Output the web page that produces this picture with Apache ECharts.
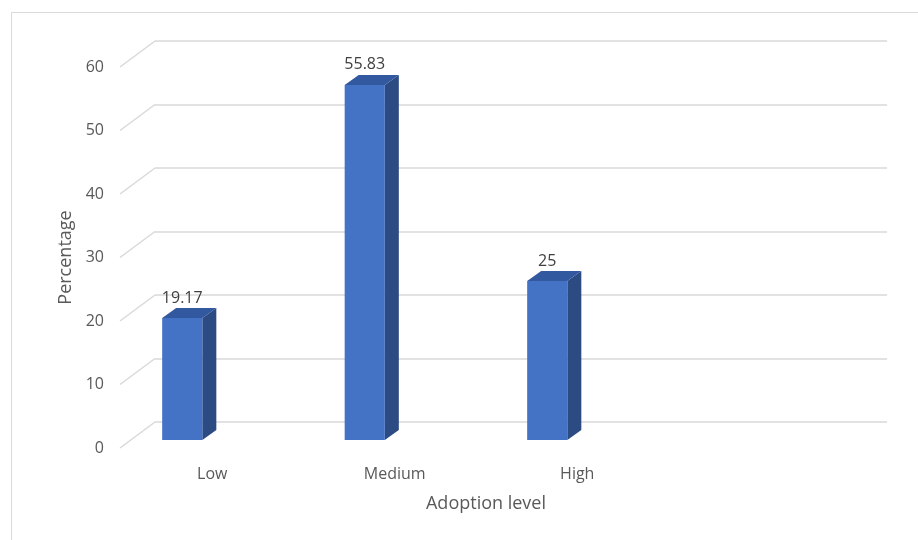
<!DOCTYPE html>
<html>
<head>
<meta charset="utf-8">
<script src="https://cdn.jsdelivr.net/npm/echarts@6/dist/echarts.min.js"></script>
<style>
html,body{margin:0;padding:0;background:#fff;}
#chart{width:918px;height:540px;}
</style>
</head>
<body>
<div id="chart"></div>
<script>
var categories = ['Low', 'Medium', 'High'];
var percentages = [19.17, 55.83, 25];
var yTicks = [0, 10, 20, 30, 40, 50, 60];
var yTitle = 'Percentage';
var xTitle = 'Adoption level';

var FONT = '"Open Sans", sans-serif';
var DX = 14, DY = 10;       // bar depth offset
var FX = 35, FY = 26;       // floor depth offset for wall lines

var chart = echarts.init(document.getElementById('chart'));
chart.setOption({
  animation: false,
  backgroundColor: '#ffffff',
  grid: [
    { left: 155, right: 31, top: 41, bottom: 118 },          // back wall
    { left: 120, right: 31, top: 67, bottom: 92 },           // y labels
    { left: 91, width: 547.5, top: 58.4, bottom: 100 },      // bars
    { left: 121, width: 547.5, top: 58.4, bottom: 100 }      // category labels
  ],
  xAxis: [
    { gridIndex: 0, type: 'value', min: 0, max: 1, show: false },
    { gridIndex: 1, type: 'value', min: 0, max: 1, show: false },
    { gridIndex: 2, type: 'category', data: categories, show: false },
    { gridIndex: 3, type: 'category', data: categories,
      axisLine: { show: false }, axisTick: { show: false },
      axisLabel: { margin: 26, fontSize: 16, color: '#595959', fontFamily: FONT } }
  ],
  yAxis: [
    { gridIndex: 0, type: 'value', min: 0, max: 60, interval: 10,
      axisLine: { show: false }, axisTick: { show: false }, axisLabel: { show: false },
      splitLine: { lineStyle: { color: '#d9d9d9', width: 1.5 } } },
    { gridIndex: 1, type: 'value', min: 0, max: 60, interval: 10,
      axisLine: { show: false }, axisTick: { show: false }, splitLine: { show: false },
      axisLabel: { margin: 16, fontSize: 16, color: '#595959', fontFamily: FONT },
      name: yTitle, nameLocation: 'middle', nameGap: 45,
      nameTextStyle: { fontSize: 18, color: '#595959', fontFamily: FONT } },
    { gridIndex: 2, type: 'value', min: 0, max: 60, interval: 10, show: false },
    { gridIndex: 3, type: 'value', min: 0, max: 60, interval: 10, show: false }
  ],
  graphic: [
    { type: 'rect', left: 9, top: 10, shape: { width: 960, height: 600 },
      style: { fill: 'none', stroke: '#d9d9d9', lineWidth: 1 }, silent: true, z: -10 },
    { type: 'text', x: 486, y: 504,
      style: { text: xTitle, fontSize: 18, fill: '#595959', fontFamily: FONT,
               textAlign: 'center', textVerticalAlign: 'middle' } }
  ],
  series: [
    {
      type: 'custom', xAxisIndex: 0, yAxisIndex: 0,
      data: yTicks.map(function (t) { return [0, t]; }),
      renderItem: function (params, api) {
        var p = api.coord([0, api.value(1)]);
        return { type: 'line', shape: { x1: p[0], y1: p[1], x2: p[0] - FX, y2: p[1] + FY },
                 style: { stroke: '#d9d9d9', lineWidth: 1.5 } };
      },
      z: 1, silent: true
    },
    {
      type: 'custom', xAxisIndex: 2, yAxisIndex: 2,
      data: percentages.map(function (v, i) { return [i, v]; }),
      renderItem: function (params, api) {
        var i = api.value(0), v = api.value(1);
        var b = api.coord([i, 0]);
        var t = api.coord([i, v]);
        var bw = api.size([1, 0])[0] * 0.22;
        var x0 = t[0] - bw / 2, x1 = t[0] + bw / 2;
        return {
          type: 'group',
          children: [
            { type: 'polygon', shape: { points: [[x1, t[1]], [x1 + DX, t[1] - DY], [x1 + DX, b[1] - DY], [x1, b[1]]] },
              style: { fill: '#2C4B82' } },
            { type: 'polygon', shape: { points: [[x0, t[1]], [x0 + DX, t[1] - DY], [x1 + DX, t[1] - DY], [x1, t[1]]] },
              style: { fill: '#3258A0' } },
            { type: 'rect', shape: { x: x0, y: t[1], width: bw, height: b[1] - t[1] },
              style: { fill: '#4472C4' } },
            { type: 'text', x: t[0], y: t[1] - 20,
              style: { text: String(v), fontSize: 16, fill: '#404040', fontFamily: FONT,
                       textAlign: 'center', textVerticalAlign: 'middle' } }
          ]
        };
      },
      z: 5
    }
  ]
});
</script>
</body>
</html>
